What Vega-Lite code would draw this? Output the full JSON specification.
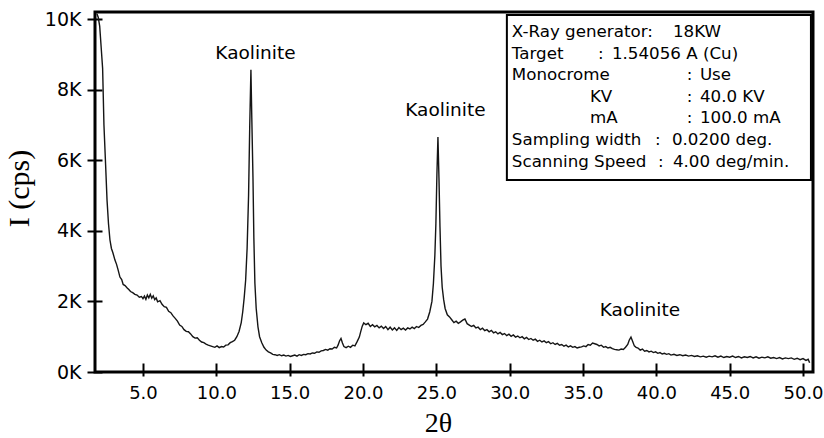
{
  "$schema": "https://vega.github.io/schema/vega-lite/v6.json",
  "width": 718,
  "height": 360,
  "autosize": {"type": "none"},
  "padding": {"left": 95, "top": 12, "right": 11, "bottom": 66},
  "background": "white",
  "config": {
    "view": {"stroke": "black", "strokeWidth": 3},
    "axis": {"grid": false, "domain": false, "tickColor": "black", "tickWidth": 2, "labelColor": "black", "labelFont": "DejaVu Sans", "titleColor": "black", "titleFont": "Liberation Serif", "titleFontWeight": "normal"}
  },
  "datasets": {
    "scan": [
      {"t":1.86,"i":10150},{"t":1.95,"i":10050},{"t":2.05,"i":9800},{"t":2.15,"i":9200},{"t":2.25,"i":8600},{"t":2.34,"i":7000},{"t":2.45,"i":5900},{"t":2.55,"i":4870},{"t":2.65,"i":4200},{"t":2.75,"i":3740},{"t":2.85,"i":3500},{"t":2.95,"i":3380},{"t":3.09,"i":3170},{"t":3.2,"i":3050},{"t":3.3,"i":2900},{"t":3.43,"i":2690},{"t":3.55,"i":2620},{"t":3.65,"i":2480},{"t":3.78,"i":2450},{"t":3.91,"i":2390},{"t":4.05,"i":2330},{"t":4.15,"i":2280},{"t":4.3,"i":2250},{"t":4.45,"i":2200},{"t":4.6,"i":2180},{"t":4.75,"i":2120},{"t":4.9,"i":2140},{"t":5.0,"i":2080},{"t":5.1,"i":2150},{"t":5.2,"i":2060},{"t":5.3,"i":2180},{"t":5.4,"i":2100},{"t":5.5,"i":2200},{"t":5.6,"i":2090},{"t":5.7,"i":2160},{"t":5.8,"i":2050},{"t":5.9,"i":2100},{"t":6.0,"i":1990},{"t":6.16,"i":2020},{"t":6.3,"i":1920},{"t":6.45,"i":1850},{"t":6.6,"i":1830},{"t":6.75,"i":1720},{"t":6.9,"i":1680},{"t":7.05,"i":1590},{"t":7.2,"i":1520},{"t":7.35,"i":1440},{"t":7.5,"i":1330},{"t":7.65,"i":1290},{"t":7.8,"i":1200},{"t":7.95,"i":1150},{"t":8.1,"i":1140},{"t":8.25,"i":1080},{"t":8.4,"i":1000},{"t":8.55,"i":960},{"t":8.7,"i":970},{"t":8.85,"i":900},{"t":9.0,"i":850},{"t":9.15,"i":830},{"t":9.3,"i":790},{"t":9.45,"i":760},{"t":9.6,"i":740},{"t":9.75,"i":720},{"t":9.9,"i":700},{"t":10.05,"i":740},{"t":10.2,"i":690},{"t":10.35,"i":720},{"t":10.5,"i":710},{"t":10.65,"i":760},{"t":10.8,"i":770},{"t":10.95,"i":830},{"t":11.1,"i":860},{"t":11.25,"i":900},{"t":11.4,"i":1000},{"t":11.55,"i":1150},{"t":11.7,"i":1400},{"t":11.8,"i":1700},{"t":11.9,"i":2100},{"t":12.0,"i":2600},{"t":12.1,"i":3500},{"t":12.2,"i":5000},{"t":12.28,"i":7000},{"t":12.36,"i":8560},{"t":12.42,"i":7200},{"t":12.5,"i":5500},{"t":12.56,"i":3800},{"t":12.63,"i":2520},{"t":12.72,"i":1800},{"t":12.84,"i":1280},{"t":12.95,"i":1000},{"t":13.1,"i":830},{"t":13.25,"i":700},{"t":13.4,"i":620},{"t":13.55,"i":570},{"t":13.7,"i":540},{"t":13.85,"i":500},{"t":14.0,"i":490},{"t":14.15,"i":470},{"t":14.3,"i":490},{"t":14.45,"i":460},{"t":14.6,"i":480},{"t":14.75,"i":450},{"t":14.9,"i":470},{"t":15.05,"i":440},{"t":15.2,"i":460},{"t":15.35,"i":480},{"t":15.5,"i":450},{"t":15.65,"i":490},{"t":15.8,"i":470},{"t":15.95,"i":500},{"t":16.1,"i":490},{"t":16.25,"i":520},{"t":16.4,"i":510},{"t":16.55,"i":540},{"t":16.7,"i":530},{"t":16.85,"i":570},{"t":17.0,"i":560},{"t":17.15,"i":600},{"t":17.3,"i":610},{"t":17.45,"i":640},{"t":17.6,"i":620},{"t":17.75,"i":660},{"t":17.9,"i":650},{"t":18.05,"i":700},{"t":18.2,"i":680},{"t":18.3,"i":760},{"t":18.4,"i":880},{"t":18.5,"i":950},{"t":18.6,"i":820},{"t":18.7,"i":720},{"t":18.85,"i":690},{"t":19.0,"i":730},{"t":19.15,"i":700},{"t":19.3,"i":760},{"t":19.45,"i":740},{"t":19.6,"i":860},{"t":19.75,"i":990},{"t":19.85,"i":1150},{"t":19.95,"i":1300},{"t":20.05,"i":1390},{"t":20.2,"i":1340},{"t":20.35,"i":1380},{"t":20.5,"i":1290},{"t":20.65,"i":1340},{"t":20.8,"i":1280},{"t":20.95,"i":1320},{"t":21.1,"i":1250},{"t":21.25,"i":1300},{"t":21.4,"i":1230},{"t":21.55,"i":1290},{"t":21.7,"i":1200},{"t":21.85,"i":1270},{"t":22.0,"i":1190},{"t":22.15,"i":1250},{"t":22.3,"i":1180},{"t":22.45,"i":1260},{"t":22.6,"i":1200},{"t":22.75,"i":1240},{"t":22.9,"i":1190},{"t":23.05,"i":1250},{"t":23.2,"i":1220},{"t":23.35,"i":1270},{"t":23.5,"i":1230},{"t":23.65,"i":1290},{"t":23.8,"i":1260},{"t":23.95,"i":1320},{"t":24.1,"i":1350},{"t":24.25,"i":1420},{"t":24.4,"i":1500},{"t":24.55,"i":1700},{"t":24.7,"i":2000},{"t":24.8,"i":2500},{"t":24.9,"i":3300},{"t":24.97,"i":4200},{"t":25.04,"i":5600},{"t":25.11,"i":6660},{"t":25.18,"i":5500},{"t":25.25,"i":4100},{"t":25.32,"i":3000},{"t":25.4,"i":2400},{"t":25.5,"i":2050},{"t":25.6,"i":1800},{"t":25.75,"i":1620},{"t":25.9,"i":1560},{"t":26.05,"i":1480},{"t":26.2,"i":1400},{"t":26.35,"i":1440},{"t":26.5,"i":1380},{"t":26.65,"i":1420},{"t":26.8,"i":1470},{"t":26.95,"i":1500},{"t":27.1,"i":1370},{"t":27.25,"i":1330},{"t":27.4,"i":1290},{"t":27.55,"i":1320},{"t":27.7,"i":1250},{"t":27.85,"i":1270},{"t":28.0,"i":1200},{"t":28.15,"i":1240},{"t":28.3,"i":1170},{"t":28.45,"i":1200},{"t":28.6,"i":1140},{"t":28.75,"i":1180},{"t":28.9,"i":1110},{"t":29.05,"i":1140},{"t":29.2,"i":1080},{"t":29.35,"i":1120},{"t":29.5,"i":1060},{"t":29.65,"i":1090},{"t":29.8,"i":1030},{"t":29.95,"i":1070},{"t":30.1,"i":1010},{"t":30.25,"i":1050},{"t":30.4,"i":990},{"t":30.55,"i":1020},{"t":30.7,"i":970},{"t":30.85,"i":1000},{"t":31.0,"i":940},{"t":31.15,"i":980},{"t":31.3,"i":920},{"t":31.45,"i":950},{"t":31.6,"i":900},{"t":31.75,"i":930},{"t":31.9,"i":870},{"t":32.05,"i":900},{"t":32.2,"i":850},{"t":32.35,"i":880},{"t":32.5,"i":830},{"t":32.65,"i":860},{"t":32.8,"i":800},{"t":32.95,"i":830},{"t":33.1,"i":780},{"t":33.25,"i":810},{"t":33.4,"i":760},{"t":33.55,"i":780},{"t":33.7,"i":730},{"t":33.85,"i":760},{"t":34.0,"i":710},{"t":34.15,"i":740},{"t":34.3,"i":700},{"t":34.45,"i":720},{"t":34.6,"i":680},{"t":34.75,"i":700},{"t":34.9,"i":710},{"t":35.05,"i":740},{"t":35.2,"i":720},{"t":35.35,"i":780},{"t":35.5,"i":760},{"t":35.65,"i":820},{"t":35.8,"i":800},{"t":35.95,"i":780},{"t":36.1,"i":740},{"t":36.25,"i":760},{"t":36.4,"i":700},{"t":36.55,"i":720},{"t":36.7,"i":680},{"t":36.85,"i":700},{"t":37.0,"i":660},{"t":37.15,"i":640},{"t":37.3,"i":630},{"t":37.45,"i":620},{"t":37.6,"i":650},{"t":37.75,"i":640},{"t":37.9,"i":700},{"t":38.05,"i":780},{"t":38.15,"i":900},{"t":38.27,"i":990},{"t":38.38,"i":870},{"t":38.5,"i":740},{"t":38.62,"i":700},{"t":38.75,"i":680},{"t":38.9,"i":620},{"t":39.05,"i":650},{"t":39.2,"i":590},{"t":39.35,"i":610},{"t":39.5,"i":570},{"t":39.65,"i":590},{"t":39.8,"i":550},{"t":39.95,"i":570},{"t":40.1,"i":530},{"t":40.25,"i":550},{"t":40.4,"i":510},{"t":40.55,"i":530},{"t":40.7,"i":500},{"t":40.85,"i":520},{"t":41.0,"i":480},{"t":41.2,"i":500},{"t":41.4,"i":470},{"t":41.6,"i":490},{"t":41.8,"i":460},{"t":42.0,"i":480},{"t":42.2,"i":450},{"t":42.4,"i":470},{"t":42.6,"i":440},{"t":42.8,"i":460},{"t":43.0,"i":430},{"t":43.2,"i":450},{"t":43.4,"i":420},{"t":43.6,"i":450},{"t":43.8,"i":430},{"t":44.0,"i":460},{"t":44.2,"i":420},{"t":44.4,"i":450},{"t":44.6,"i":410},{"t":44.8,"i":440},{"t":45.0,"i":420},{"t":45.2,"i":450},{"t":45.4,"i":410},{"t":45.6,"i":440},{"t":45.8,"i":400},{"t":46.0,"i":430},{"t":46.2,"i":410},{"t":46.4,"i":440},{"t":46.6,"i":400},{"t":46.8,"i":430},{"t":47.0,"i":390},{"t":47.2,"i":420},{"t":47.4,"i":400},{"t":47.6,"i":430},{"t":47.8,"i":390},{"t":48.0,"i":410},{"t":48.2,"i":380},{"t":48.4,"i":410},{"t":48.6,"i":370},{"t":48.8,"i":400},{"t":49.0,"i":380},{"t":49.2,"i":400},{"t":49.4,"i":360},{"t":49.6,"i":390},{"t":49.8,"i":350},{"t":50.0,"i":380},{"t":50.2,"i":330},{"t":50.35,"i":360},{"t":50.45,"i":260}
    ],
    "notes": [
      {"t": 12.67, "i": 9040, "label": "Kaolinite"},
      {"t": 25.62, "i": 7420, "label": "Kaolinite"},
      {"t": 38.88, "i": 1760, "label": "Kaolinite"}
    ],
    "box": [
      {"t1": 29.81, "t2": 50.54, "i1": 5440, "i2": 10116}
    ],
    "info": [
      {"t": 30.15, "i": 9633, "label": "X-Ray generator:"},
      {"t": 41.13, "i": 9633, "label": "18KW"},
      {"t": 30.15, "i": 9021, "label": "Target"},
      {"t": 36.02, "i": 9021, "label": ":"},
      {"t": 36.97, "i": 9021, "label": "1.54056 A (Cu)"},
      {"t": 30.15, "i": 8409, "label": "Monocrome"},
      {"t": 42.08, "i": 8409, "label": ":"},
      {"t": 42.97, "i": 8409, "label": "Use"},
      {"t": 35.47, "i": 7797, "label": "KV"},
      {"t": 42.08, "i": 7797, "label": ":"},
      {"t": 42.97, "i": 7797, "label": "40.0 KV"},
      {"t": 35.47, "i": 7185, "label": "mA"},
      {"t": 42.08, "i": 7185, "label": ":"},
      {"t": 42.97, "i": 7185, "label": "100.0 mA"},
      {"t": 30.15, "i": 6573, "label": "Sampling width"},
      {"t": 39.90, "i": 6573, "label": ":"},
      {"t": 41.06, "i": 6573, "label": "0.0200 deg."},
      {"t": 30.15, "i": 5961, "label": "Scanning Speed"},
      {"t": 40.11, "i": 5961, "label": ":"},
      {"t": 41.13, "i": 5961, "label": "4.00 deg/min."}
    ]
  },
  "layer": [
    {
      "data": {"name": "scan"},
      "mark": {"type": "line", "color": "#151515", "strokeWidth": 1.4, "clip": true},
      "encoding": {
        "x": {
          "field": "t", "type": "quantitative",
          "scale": {"domain": [1.73, 50.68], "nice": false, "zero": false},
          "axis": {
            "title": "2θ", "titleFontSize": 28, "titleX": 343, "titleY": 60, "titleBaseline": "middle", "titleAlign": "center",
            "values": [5, 10, 15, 20, 25, 30, 35, 40, 45, 50], "format": ".1f",
            "offset": -9, "tickSize": 13, "labelPadding": 8, "labelFontSize": 18
          }
        },
        "y": {
          "field": "i", "type": "quantitative",
          "scale": {"domain": [0, 10200], "nice": false},
          "axis": {
            "title": "I (cps)", "titleFontSize": 30, "titleX": -83, "titleY": 176, "titleBaseline": "middle", "titleAlign": "center", "titleAngle": -90,
            "values": [0, 2000, 4000, 6000, 8000, 10000], "labelExpr": "datum.value / 1000 + 'K'",
            "offset": -7, "tickSize": 15, "labelPadding": 6, "labelFontSize": 19
          }
        }
      }
    },
    {
      "data": {"name": "notes"},
      "mark": {"type": "text", "font": "DejaVu Sans", "fontSize": 18.5, "color": "black", "align": "center", "baseline": "middle"},
      "encoding": {
        "x": {"field": "t", "type": "quantitative"},
        "y": {"field": "i", "type": "quantitative"},
        "text": {"field": "label"}
      }
    },
    {
      "data": {"name": "box"},
      "mark": {"type": "rect", "fill": "white", "stroke": "black", "strokeWidth": 2},
      "encoding": {
        "x": {"field": "t1", "type": "quantitative"},
        "x2": {"field": "t2"},
        "y": {"field": "i1", "type": "quantitative"},
        "y2": {"field": "i2"}
      }
    },
    {
      "data": {"name": "info"},
      "mark": {"type": "text", "font": "DejaVu Sans", "fontSize": 16.7, "color": "black", "align": "left", "baseline": "middle"},
      "encoding": {
        "x": {"field": "t", "type": "quantitative"},
        "y": {"field": "i", "type": "quantitative"},
        "text": {"field": "label"}
      }
    }
  ]
}
